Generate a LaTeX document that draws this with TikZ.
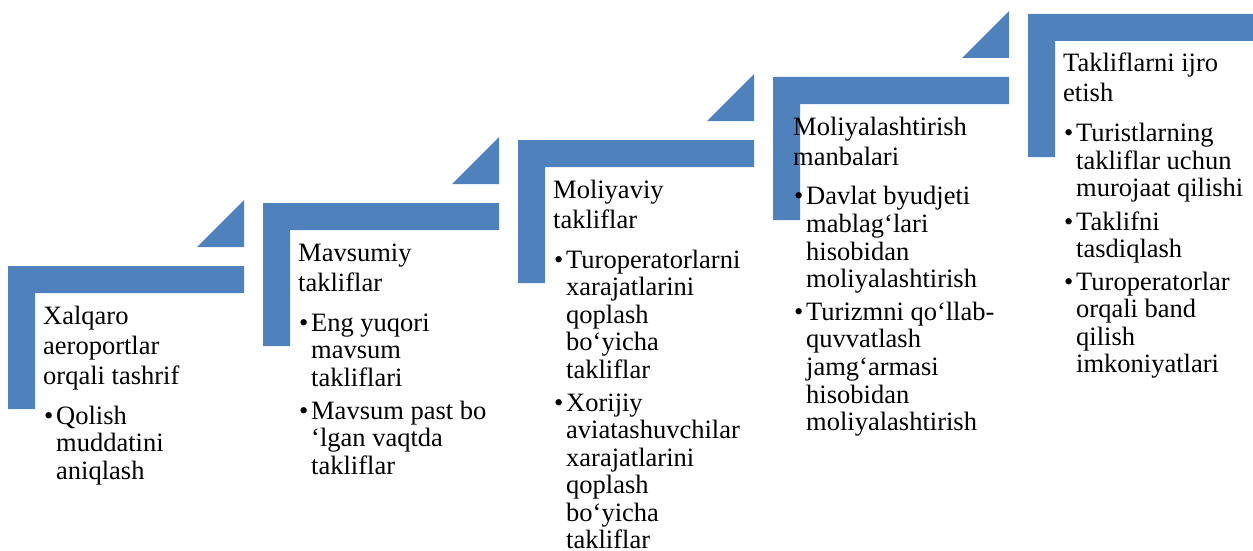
\documentclass[tikz,border=0pt]{standalone}
\usepackage{fontspec}
\setmainfont{Liberation Serif}
\definecolor{stepblue}{HTML}{4F81BD}
\setlength{\parskip}{0pt}
\newcommand{\steptitle}[1]{{\fontsize{26.5}{30}\selectfont #1\par}\vspace{7pt}}
\newcommand{\stepitem}[1]{\vspace{5.5pt}\hangindent=13pt\hangafter=1\noindent
  \makebox[13pt][l]{\hspace*{1pt}\textbullet}#1\par}
\newcommand{\stepbox}[2]{\begin{minipage}[t]{215pt}
  \fontsize{26.5}{27.5}\selectfont\steptitle{#1}#2\end{minipage}}
\begin{document}
\begin{tikzpicture}[x=1pt, y=-1pt,
    steptext/.style={anchor=base west, inner sep=0pt}]
    \useasboundingbox (0,0) rectangle (1253,551);
    % brackets and corner triangles
    \foreach \i in {0,...,4} {
      \pgfmathsetmacro{\xa}{8+255*\i}
      \pgfmathsetmacro{\ya}{266-63*\i}
      \fill [stepblue] (\xa,\ya) -- ++(236,0) -- ++(0,27) -- ++(-209,0)
        -- ++(0,116) -- ++(-27,0) -- cycle;
      \ifnum\i<4
        \fill [stepblue] (\xa+189,\ya-19) -- ++(47,-47) -- ++(0,47) -- cycle;
      \fi
    }
    \node [steptext] (s1) at (43,324) {\stepbox{Xalqaro\\aeroportlar\\orqali tashrif}
      {\stepitem{Qolish\\muddatini\\aniqlash}}};
    \node [steptext] (s2) at (298,261) {\stepbox{Mavsumiy\\takliflar}
      {\stepitem{Eng yuqori\\mavsum\\takliflari}
       \stepitem{Mavsum past bo\\‘lgan vaqtda\\takliflar}}};
    \node [steptext] (s3) at (553,198) {\stepbox{Moliyaviy\\takliflar}
      {\stepitem{Turoperatorlarni\\xarajatlarini\\qoplash\\bo‘yicha\\takliflar}
       \stepitem{Xorijiy\\aviatashuvchilar\\xarajatlarini\\qoplash\\bo‘yicha\\takliflar}}};
    \node [steptext] (s4) at (793,135) {\stepbox{Moliyalashtirish\\manbalari}
      {\stepitem{Davlat byudjeti\\mablag‘lari\\hisobidan\\moliyalashtirish}
       \stepitem{Turizmni qo‘llab-\\quvvatlash\\jamg‘armasi\\hisobidan\\moliyalashtirish}}};
    \node [steptext] (s5) at (1063,72) {\stepbox{Takliflarni ijro\\etish}
      {\stepitem{Turistlarning\\takliflar uchun\\murojaat qilishi}
       \stepitem{Taklifni\\tasdiqlash}
       \stepitem{Turoperatorlar\\orqali band\\qilish\\imkoniyatlari}}};
  \end{tikzpicture}
\end{document}
